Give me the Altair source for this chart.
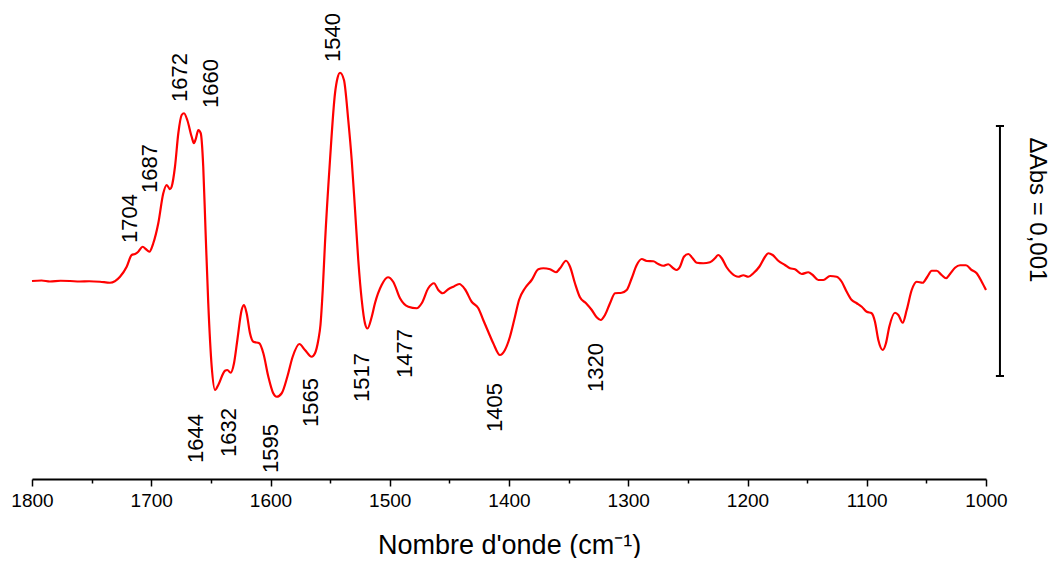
import altair as alt
import pandas as pd

# Spectrum (wavenumber in cm-1, difference absorbance in units of 0.001)
wn = [1800, 1792, 1784.9, 1776, 1768.1, 1760, 1752, 1743.0, 1734.6, 1726.2,
      1720.6, 1716.4, 1713.6, 1710.9, 1707.2, 1704.4, 1701.6, 1698.3, 1694.1, 1689.9,
      1687.0, 1684.3, 1682.9, 1680.1, 1677.3, 1674.5, 1672.5, 1669.8, 1666.1, 1664.2,
      1662.5, 1660.5, 1658.5, 1656.4, 1654.5, 1652.2, 1649.3, 1646.5, 1643.8, 1638.2,
      1636.2, 1633.4, 1630.6, 1627.8, 1624.2, 1622.2, 1620.0, 1617.2, 1614.4, 1609.4,
      1606.0, 1601.8, 1597.7, 1594.8, 1590.6, 1585.9, 1581.4, 1575.8, 1571.1, 1565.5,
      1562.7, 1559.9, 1558.1, 1556.2, 1554.3, 1550.1, 1545.9, 1543.8, 1541.7, 1538.4,
      1534.8, 1531.9, 1529.1, 1526.4, 1523.5, 1520.8, 1518.7, 1515.1, 1512.4, 1506.8,
      1501.5, 1497.0, 1491.4, 1484.4, 1477.4, 1473.2, 1467.7, 1462.9, 1459.3, 1455.6,
      1450.9, 1446.7, 1441.7, 1436.9, 1431.3, 1425.7, 1421.6, 1417.4, 1413.2, 1407.6,
      1403.4, 1399.2, 1395.0, 1391.6, 1386.6, 1381.0, 1375.4, 1371.2, 1365.6, 1360.6,
      1357.2, 1352.2, 1348.8, 1344.7, 1340.5, 1335.4, 1330.6, 1326.5, 1323.1, 1319.5,
      1315.3, 1311.1, 1305.5, 1301.3, 1297.1, 1292.9, 1288.7, 1284.5, 1279.0, 1274.8,
      1270.6, 1266.4, 1262.2, 1259.4, 1256.6, 1253.3, 1249.6, 1246.0, 1242.6, 1237.1,
      1231.5, 1227.3, 1224.5, 1221.6, 1217.5, 1213.3, 1207.7, 1203.5, 1199.3, 1195.1,
      1190.1, 1185.3, 1182.6, 1178.9, 1174.2, 1168.6, 1164.4, 1160.2, 1154.6, 1149.0,
      1145.3, 1140.6, 1136.4, 1130.8, 1125.2, 1121.0, 1116.8, 1112.6, 1108.4, 1104.2,
      1100.0, 1095.9, 1093.1, 1090.3, 1086.6, 1083.9, 1081.1, 1076.3, 1073.5, 1069.9,
      1066.5, 1062.3, 1058.1, 1053.1, 1049.2, 1045.5, 1041.3, 1037.2, 1033.5, 1030.2,
      1026.0, 1021.8, 1016.8, 1012.0, 1007.8, 1003.6, 1000.0]

dabs = [0.000, 0.002, -0.002, 0.001, 0.000, -0.002, -0.001, -0.003, -0.007, 0.017,
        0.057, 0.104, 0.108, 0.117, 0.137, 0.127, 0.117, 0.151, 0.231, 0.351,
        0.384, 0.367, 0.377, 0.457, 0.591, 0.664, 0.671, 0.644, 0.577, 0.551,
        0.571, 0.604, 0.591, 0.457, 0.204, -0.088, -0.343, -0.436, -0.416, -0.359,
        -0.356, -0.367, -0.329, -0.236, -0.116, -0.096, -0.129, -0.209, -0.243, -0.249,
        -0.289, -0.383, -0.449, -0.463, -0.449, -0.383, -0.303, -0.252, -0.276, -0.303,
        -0.289, -0.236, -0.176, -0.036, 0.152, 0.484, 0.751, 0.812, 0.833, 0.804,
        0.644, 0.484, 0.284, 0.084, -0.076, -0.169, -0.190, -0.143, -0.089, -0.016,
        0.015, -0.004, -0.069, -0.103, -0.109, -0.089, -0.029, -0.009, -0.036, -0.049,
        -0.033, -0.023, -0.012, -0.033, -0.083, -0.109, -0.156, -0.203, -0.249, -0.296,
        -0.276, -0.223, -0.143, -0.076, -0.029, 0.004, 0.047, 0.051, 0.047, 0.035,
        0.051, 0.081, 0.057, -0.009, -0.065, -0.089, -0.116, -0.145, -0.156, -0.136,
        -0.089, -0.049, -0.047, -0.036, 0.011, 0.064, 0.088, 0.080, 0.079, 0.068,
        0.061, 0.067, 0.051, 0.044, 0.057, 0.097, 0.108, 0.091, 0.073, 0.071,
        0.075, 0.091, 0.104, 0.091, 0.055, 0.031, 0.017, 0.023, 0.017, 0.031,
        0.057, 0.097, 0.111, 0.104, 0.081, 0.064, 0.051, 0.047, 0.028, 0.035,
        0.024, 0.004, 0.004, 0.020, 0.017, -0.003, -0.043, -0.076, -0.089, -0.103,
        -0.123, -0.129, -0.163, -0.236, -0.276, -0.249, -0.183, -0.127, -0.136, -0.167,
        -0.116, -0.036, -0.003, -0.007, 0.017, 0.041, 0.041, 0.024, 0.011, 0.028,
        0.053, 0.063, 0.063, 0.044, 0.031, -0.003, -0.036]

# Peak annotations: text, x position (cm-1), y start of the rotated text
peak_text = ["1704", "1687", "1672", "1660", "1540", "1644", "1632",
             "1595", "1565", "1517", "1477", "1405", "1320"]
peak_x = [1717.8, 1701.0, 1675.9, 1649.9, 1547.6, 1662.5, 1634.8,
          1599.6, 1566.0, 1523.3, 1487.2, 1411.7, 1327.0]
peak_y = [0.152, 0.352, 0.716, 0.692, 0.876, -0.728, -0.704,
          -0.768, -0.584, -0.484, -0.388, -0.604, -0.444]

# Scale bar (Delta Abs = 0.001)
bar_x = [988.3]
bar_top = [0.62]
bar_bottom = [-0.38]
cap_left = [991.7]
cap_right = [984.9]
bar_label = ["ΔAbs = 0,001"]
bar_label_x = [957.5]
bar_label_y = [0.284]

tick_values = list(range(1800, 999, -50))

FONT = "Liberation Sans"
W, H = 954, 469

spec = pd.DataFrame({"wn": wn, "dabs": dabs, "idx": list(range(len(wn)))})
peaks = pd.DataFrame({"t": peak_text, "x": peak_x, "y": peak_y})
bar = pd.DataFrame({"x": bar_x, "y1": bar_top, "y2": bar_bottom})
caps = pd.DataFrame({"xa": cap_left * 2, "xb": cap_right * 2, "y": bar_top + bar_bottom})
lab = pd.DataFrame({"t": bar_label, "x": bar_label_x, "y": bar_label_y})

xs = alt.Scale(domain=[1000, 1800], reverse=True, nice=False, zero=False)
ys = alt.Scale(domain=[-0.792, 1.084], nice=False, zero=False)

x_axis = alt.Axis(
    values=tick_values,
    format="d",
    labelExpr="datum.value % 100 === 0 ? datum.label : ''",
    tickSize={"condition": {"test": "datum.value % 100 === 0", "value": 7}, "value": 4},
    tickWidth=1.5,
    tickColor="black",
    domainColor="black",
    domainWidth=2,
    labelFont=FONT,
    labelFontSize=19,
    labelColor="black",
    labelPadding=5,
    labelOverlap=False,
    labelFlush=False,
    grid=False,
    title="Nombre d'onde (cm⁻¹)",
    titleFont=FONT,
    titleFontSize=27,
    titleFontWeight="normal",
    titleColor="black",
    titleY=74,
    titleBaseline="alphabetic",
)

line = alt.Chart(spec).mark_line(
    color="#ff0000", strokeWidth=2.2, interpolate="monotone"
).encode(
    x=alt.X("wn:Q", scale=xs, axis=x_axis),
    y=alt.Y("dabs:Q", scale=ys, axis=None),
    order=alt.Order("idx:Q"),
)

peak_labels = alt.Chart(peaks).mark_text(
    angle=270, align="left", baseline="middle", font=FONT, fontSize=22, color="black"
).encode(
    x=alt.X("x:Q", scale=xs),
    y=alt.Y("y:Q", scale=ys),
    text="t:N",
)

bar_rule = alt.Chart(bar).mark_rule(color="black", strokeWidth=2).encode(
    x=alt.X("x:Q", scale=xs),
    y=alt.Y("y1:Q", scale=ys),
    y2="y2:Q",
)

cap_rule = alt.Chart(caps).mark_rule(color="black", strokeWidth=2).encode(
    x=alt.X("xa:Q", scale=xs),
    x2="xb:Q",
    y=alt.Y("y:Q", scale=ys),
)

bar_text = alt.Chart(lab).mark_text(
    angle=90, align="center", baseline="middle", font=FONT, fontSize=24, color="black"
).encode(
    x=alt.X("x:Q", scale=xs),
    y=alt.Y("y:Q", scale=ys),
    text="t:N",
)

chart = alt.layer(line, peak_labels, bar_rule, cap_rule, bar_text).properties(
    width=W,
    height=H,
    autosize=alt.AutoSizeParams(type="none"),
    padding={"left": 24, "top": 2, "right": 65, "bottom": 79},
    background="white",
).configure_view(stroke=None)

chart.save("out.html", embed_options={"renderer": "svg", "actions": False})
